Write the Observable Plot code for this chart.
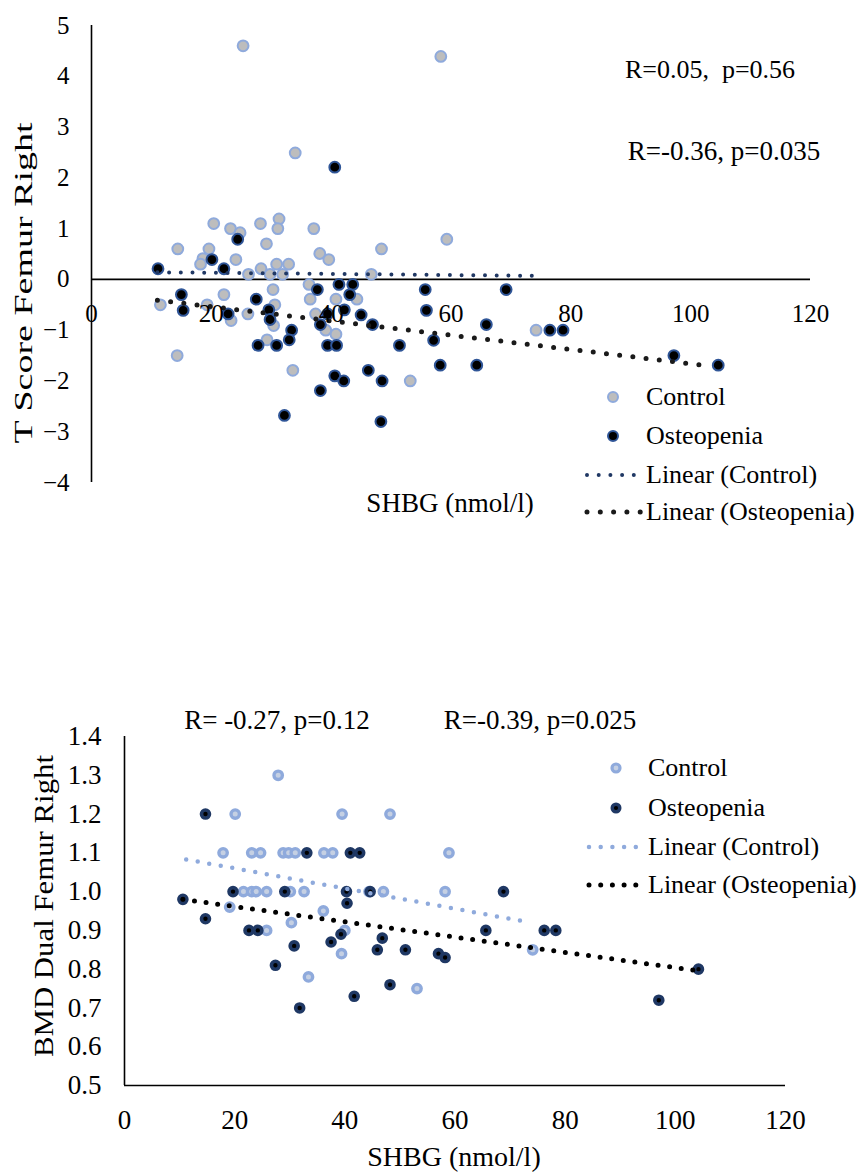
<!DOCTYPE html>
<html>
<head>
<meta charset="utf-8">
<script src="https://cdn.jsdelivr.net/npm/d3@7"></script>
<script src="https://cdn.jsdelivr.net/npm/@observablehq/plot@0.6"></script>
<style>
  body { margin: 0; background: #fff; }
  #wrap { position: relative; width: 857px; height: 1173px; font-family: "Liberation Serif", "Times New Roman", serif; color: #000; overflow: hidden; }
  .chart { position: absolute; left: 0; }
  .lab { position: absolute; white-space: pre; line-height: 1; transform: translate(-50%, -50%); }
  .rot { position: absolute; white-space: pre; line-height: 1; }
  .leg { position: absolute; white-space: pre; line-height: 1; transform: translateY(-50%); }
  .legsym { position: absolute; overflow: visible; }
</style>
</head>
<body>
<div id="wrap"></div>
<script>
// ---------- Top chart: T Score Femur Right vs SHBG ----------
const topXTicks = [0, 20, 40, 60, 80, 100, 120];
const topYTicks = [-4, -3, -2, -1, 0, 1, 2, 3, 4, 5];

const topControlX = [25.3, 58.3, 34, 20.4, 23.2, 24.8, 28.2, 31.3, 31.1, 29.2, 37.1, 38.1, 39.6, 48.4, 59.3, 14.4, 19.6, 18.6, 18.2, 24.1, 26.2, 28.3, 29.8, 30.9, 32.9, 31.9, 46.7, 36.3, 44.3, 36.5, 40.8, 22.1, 30.3, 30.6, 11.5, 19.3, 23.3, 26.1, 30.4, 37.4, 39.1, 40.8, 29.3, 14.3, 33.6, 53.2, 74.2];
const topControlY = [4.6, 4.39, 2.49, 1.1, 1.0, 0.92, 1.1, 1.19, 1.0, 0.7, 1.0, 0.51, 0.39, 0.6, 0.79, 0.6, 0.6, 0.41, 0.3, 0.39, 0.1, 0.21, 0.1, 0.3, 0.3, 0.1, 0.1, -0.1, -0.39, -0.39, -0.39, -0.3, -0.2, -0.5, -0.5, -0.5, -0.81, -0.68, -0.91, -0.68, -1.0, -1.08, -1.19, -1.5, -1.79, -2.0, -1.0];

const topOsteoX = [40.6, 24.4, 20.1, 22.1, 11.1, 37.7, 41.3, 43.6, 43.1, 55.7, 55.9, 15, 27.5, 15.3, 22.8, 29.6, 29.8, 33.4, 38.2, 39.4, 42.2, 45, 46.9, 27.8, 30.9, 33, 39.4, 40.9, 51.4, 57.1, 40.6, 42.1, 46.2, 48.5, 38.2, 32.2, 48.3, 58.2, 64.3, 69.2, 65.9, 76.5, 78.7, 97.2, 104.6];
const topOsteoY = [2.21, 0.79, 0.39, 0.21, 0.21, -0.2, -0.1, -0.1, -0.3, -0.2, -0.61, -0.3, -0.39, -0.61, -0.68, -0.6, -0.79, -1.0, -0.89, -0.68, -0.6, -0.7, -0.89, -1.3, -1.3, -1.19, -1.3, -1.3, -1.3, -1.2, -1.9, -2.0, -1.79, -2.0, -2.19, -2.68, -2.8, -1.69, -1.69, -0.2, -0.89, -1.0, -1.0, -1.5, -1.69];

const topTrendControlX = [11, 74];
const topTrendControlY = [0.14, 0.07];
const topTrendOsteoX = [11, 103.5];
const topTrendOsteoY = [-0.41, -1.71];

// ---------- Bottom chart: BMD Dual Femur Right vs SHBG ----------
const botXTicks = [0, 20, 40, 60, 80, 100, 120];
const botYTicks = [0.5, 0.6, 0.7, 0.8, 0.9, 1.0, 1.1, 1.2, 1.3, 1.4];

const botControlX = [27.9, 20.1, 39.5, 48.2, 17.9, 23.1, 24.7, 28.8, 29.8, 31.0, 36.2, 37.8, 58.9, 21.6, 23.1, 23.9, 25.8, 30.1, 32.6, 44.4, 58.2, 19.1, 36.1, 30.3, 25.8, 40.0, 39.4, 33.4, 53.1, 74.1, 47.0];
const botControlY = [1.30, 1.20, 1.20, 1.20, 1.10, 1.10, 1.10, 1.10, 1.10, 1.10, 1.10, 1.10, 1.10, 1.00, 1.00, 1.00, 1.00, 1.00, 1.00, 1.00, 1.00, 0.96, 0.95, 0.92, 0.90, 0.90, 0.84, 0.78, 0.75, 0.85, 1.00];

const botOsteoX = [14.7, 33.1, 41.0, 42.7, 19.7, 29.1, 40.3, 44.6, 68.8, 10.6, 40.4, 14.7, 22.6, 24.2, 65.6, 76.2, 78.3, 39.3, 37.5, 46.8, 30.8, 45.9, 51.0, 57.0, 58.2, 27.4, 104.2, 48.2, 41.7, 31.8, 97.0];
const botOsteoY = [1.20, 1.10, 1.10, 1.10, 1.00, 1.00, 1.00, 1.00, 1.00, 0.98, 0.97, 0.93, 0.90, 0.90, 0.90, 0.90, 0.90, 0.89, 0.87, 0.88, 0.86, 0.85, 0.85, 0.84, 0.83, 0.81, 0.80, 0.76, 0.73, 0.70, 0.72];

const botTrendControlX = [11.2, 73.8];
const botTrendControlY = [1.083, 0.92];
const botTrendOsteoX = [10.6, 103.5];
const botTrendOsteoY = [0.98, 0.797];

// ---------- Text ----------
const legendLabels = ["Control", "Osteopenia", "Linear (Control)", "Linear (Osteopenia)"];
const topAnnotations = ["R=0.05,  p=0.56", "R=-0.36, p=0.035"];
const botAnnotations = ["R= -0.27, p=0.12", "R=-0.39, p=0.025"];
const xTitle = "SHBG (nmol/l)";
const topYTitle = "T Score Femur Right";
const botYTitle = "BMD Dual Femur Right";

const zipXY = (xs, ys) => xs.map((x, i) => ({x, y: ys[i]}));
const FONT = "'Liberation Serif', 'Times New Roman', serif";
const wrap = document.getElementById("wrap");

// ---------- Top plot ----------
const topPlot = Plot.plot({
  width: 857, height: 633,
  marginLeft: 91, marginRight: 47, marginTop: 25, marginBottom: 151,
  x: {domain: [0, 120], axis: null},
  y: {domain: [-4, 5], axis: null},
  style: {fontFamily: FONT, fontSize: "25px", color: "#000", background: "transparent", overflow: "visible"},
  marks: [
    Plot.ruleX([0], {y1: -4, y2: 5, stroke: "#000", strokeWidth: 1.6}),
    Plot.ruleY([0], {x1: 0, x2: 120, stroke: "#000", strokeWidth: 1.6}),
    Plot.axisY({ticks: topYTicks, tickSize: 0, tickPadding: 22, tickFormat: d3.format("d"), fill: "#000", label: null}),
    Plot.dot(zipXY(topControlX, topControlY), {x: "x", y: "y", r: 5.4, fill: "#bdbdbd", stroke: "#8faadc", strokeWidth: 2}),
    Plot.dot(zipXY(topOsteoX, topOsteoY), {x: "x", y: "y", r: 5.4, fill: "#000", stroke: "#2f5597", strokeWidth: 2}),
    Plot.line(zipXY(topTrendControlX, topTrendControlY), {x: "x", y: "y", stroke: "#203864", strokeWidth: 4, strokeDasharray: "0 11.7", strokeLinecap: "round"}),
    Plot.line(zipXY(topTrendOsteoX, topTrendOsteoY), {x: "x", y: "y", stroke: "#1a1a1a", strokeWidth: 5, strokeDasharray: "0 13.3", strokeLinecap: "round"}),
    Plot.text(topXTicks, {x: d => d, y: () => 0, dy: 35, text: d => String(d), fill: "#000"})
  ]
});
topPlot.classList.add("chart");
topPlot.style.top = "0px";
wrap.appendChild(topPlot);

// ---------- Bottom plot ----------
const botPlot = Plot.plot({
  width: 857, height: 540,
  marginLeft: 124, marginRight: 72, marginTop: 103, marginBottom: 88,
  x: {domain: [0, 120], axis: null},
  y: {domain: [0.5, 1.4], axis: null},
  style: {fontFamily: FONT, fontSize: "27px", color: "#000", background: "transparent", overflow: "visible"},
  marks: [
    Plot.ruleX([0], {y1: 0.5, y2: 1.4, stroke: "#000", strokeWidth: 1.6}),
    Plot.ruleY([0.5], {x1: 0, x2: 120, stroke: "#000", strokeWidth: 1.6}),
    Plot.axisY({ticks: botYTicks, tickSize: 0, tickPadding: 23, tickFormat: d3.format(".1f"), fill: "#000", label: null}),
    Plot.axisX({ticks: botXTicks, tickSize: 0, tickPadding: 24, tickFormat: d3.format("d"), fill: "#000", label: null}),
    Plot.dot(zipXY(botControlX, botControlY), {x: "x", y: "y", r: 4.2, fill: "#c5d0e3", stroke: "#8faadc", strokeWidth: 3.4}),
    Plot.dot(zipXY(botOsteoX, botOsteoY), {x: "x", y: "y", r: 4, fill: "#000", stroke: "#1f3864", strokeWidth: 3.6}),
    Plot.line(zipXY(botTrendControlX, botTrendControlY), {x: "x", y: "y", stroke: "#8faadc", strokeWidth: 4.5, strokeDasharray: "0 11.7", strokeLinecap: "round"}),
    Plot.line(zipXY(botTrendOsteoX, botTrendOsteoY), {x: "x", y: "y", stroke: "#000", strokeWidth: 5, strokeDasharray: "0 11.7", strokeLinecap: "round"})
  ]
});
botPlot.classList.add("chart");
botPlot.style.top = "633px";
wrap.appendChild(botPlot);

// ---------- HTML text: titles, annotations, legends ----------
function addText(cls, txt, left, top, size) {
  const d = document.createElement("div");
  d.className = cls;
  d.textContent = txt;
  d.style.left = left + "px";
  d.style.top = top + "px";
  d.style.fontSize = size + "px";
  wrap.appendChild(d);
  return d;
}
function addRotated(txt, cx, cy, size, stretch) {
  const d = addText("rot", txt, cx, cy, size);
  d.style.transform = `translate(-50%, -50%) rotate(-90deg) scaleX(${stretch})`;
  return d;
}
addText("lab", xTitle, 450, 503, 27);
addRotated(topYTitle, 23, 283, 25, 1.52);
addText("lab", topAnnotations[0], 710, 70, 26);
addText("lab", topAnnotations[1], 724, 151, 27);

addText("lab", xTitle, 454, 1157, 28);
addRotated(botYTitle, 44, 906, 28, 1.1);
addText("lab", botAnnotations[0], 277, 720, 27);
addText("lab", botAnnotations[1], 540, 720, 27);

function legend(rows, textLeft, size, symbols) {
  rows.forEach((y, i) => {
    const s = symbols[i];
    const svg = d3.create("svg").attr("class", "legsym").attr("width", 60).attr("height", 20)
      .style("left", (textLeft - 62) + "px").style("top", (y - 10) + "px");
    if (s.type === "dot") {
      svg.append("circle").attr("cx", s.cx).attr("cy", 10).attr("r", s.r)
        .attr("fill", s.fill).attr("stroke", s.stroke).attr("stroke-width", s.sw);
    } else {
      svg.append("line").attr("x1", 3).attr("x2", 57).attr("y1", 10).attr("y2", 10)
        .attr("stroke", s.stroke).attr("stroke-width", s.sw)
        .attr("stroke-dasharray", s.dash).attr("stroke-linecap", "round");
    }
    wrap.appendChild(svg.node());
    addText("leg", legendLabels[i], textLeft, y, size);
  });
}
legend([397, 436, 475, 512], 646, 26, [
  {type: "dot", cx: 29, r: 5, fill: "#bdbdbd", stroke: "#8faadc", sw: 2},
  {type: "dot", cx: 29, r: 5, fill: "#000", stroke: "#2f5597", sw: 2},
  {type: "line", stroke: "#203864", sw: 4, dash: "0 11.7"},
  {type: "line", stroke: "#1a1a1a", sw: 5, dash: "0 13.3"}
]);
legend([768, 808, 847, 885], 648, 26, [
  {type: "dot", cx: 30, r: 4, fill: "#c5d0e3", stroke: "#8faadc", sw: 3.2},
  {type: "dot", cx: 30, r: 3.8, fill: "#000", stroke: "#1f3864", sw: 3.4},
  {type: "line", stroke: "#8faadc", sw: 4.5, dash: "0 11.7"},
  {type: "line", stroke: "#000", sw: 5, dash: "0 11.7"}
]);
</script>
</body>
</html>
